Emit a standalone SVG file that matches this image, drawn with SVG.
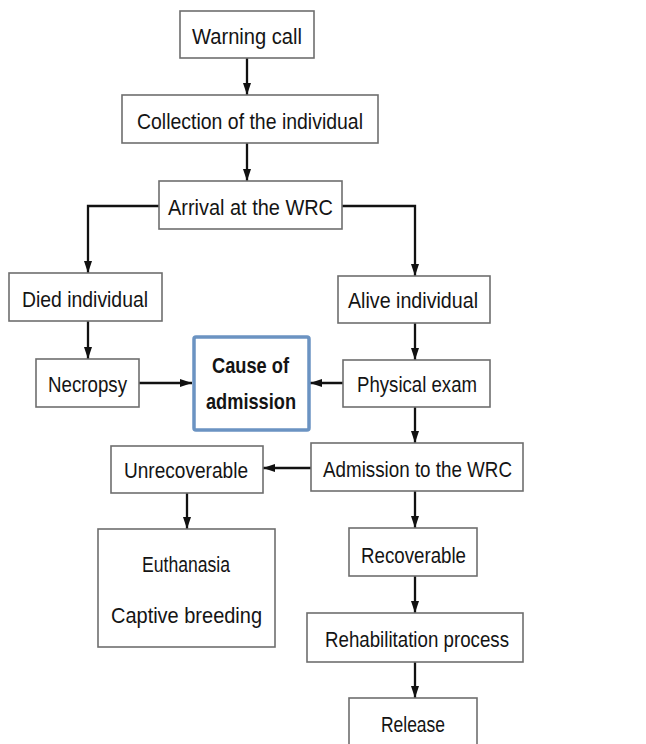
<svg xmlns="http://www.w3.org/2000/svg" width="646" height="744" viewBox="0 0 646 744">
<defs>
<marker id="ah" viewBox="0 0 12 8" refX="12" refY="4" markerWidth="12" markerHeight="8" orient="auto" markerUnits="userSpaceOnUse">
<path d="M0,0 L12,4 L0,8 z" fill="#111"/>
</marker>
<style>
.box{fill:#fff;stroke:#6e6e6e;stroke-width:1.6}
.key{fill:#fff;stroke:#6b93c2;stroke-width:3.5}
.t{font-family:"Liberation Sans",Arial,sans-serif;font-size:22px;fill:#141414;text-anchor:middle}
.b{font-weight:bold}
.c{fill:none;stroke:#111;stroke-width:2.3}
</style>
</defs>
<rect width="646" height="744" fill="#fff"/>
<g id="connectors">
<path class="c" d="M247,58 V95" marker-end="url(#ah)"/>
<path class="c" d="M247,143 V181" marker-end="url(#ah)"/>
<path class="c" d="M159,206 H88 V273" marker-end="url(#ah)"/>
<path class="c" d="M342,206 H415 V276" marker-end="url(#ah)"/>
<path class="c" d="M88,321 V359" marker-end="url(#ah)"/>
<path class="c" d="M139,383 H192" marker-end="url(#ah)"/>
<path class="c" d="M343,383 H310" marker-end="url(#ah)"/>
<path class="c" d="M415,323 V360" marker-end="url(#ah)"/>
<path class="c" d="M415,407 V443" marker-end="url(#ah)"/>
<path class="c" d="M311,468 H263" marker-end="url(#ah)"/>
<path class="c" d="M187,493 V529" marker-end="url(#ah)"/>
<path class="c" d="M415,491 V528" marker-end="url(#ah)"/>
<path class="c" d="M415,576 V613" marker-end="url(#ah)"/>
<path class="c" d="M415,662 V698" marker-end="url(#ah)"/>
</g>
<g id="warning"><rect class="box" x="180" y="11" width="134" height="47"/><text class="t" x="247" y="44" textLength="110" lengthAdjust="spacingAndGlyphs">Warning call</text></g>
<g id="collection"><rect class="box" x="122" y="95" width="256" height="48"/><text class="t" x="250" y="129" textLength="226" lengthAdjust="spacingAndGlyphs">Collection of the individual</text></g>
<g id="arrival"><rect class="box" x="159" y="181" width="183" height="48"/><text class="t" x="250.5" y="215" textLength="165" lengthAdjust="spacingAndGlyphs">Arrival at the WRC</text></g>
<g id="died"><rect class="box" x="9" y="273" width="153" height="48"/><text class="t" x="85" y="307" textLength="126" lengthAdjust="spacingAndGlyphs">Died individual</text></g>
<g id="alive"><rect class="box" x="338" y="276" width="152" height="47"/><text class="t" x="413" y="308" textLength="130" lengthAdjust="spacingAndGlyphs">Alive individual</text></g>
<g id="necropsy"><rect class="box" x="36" y="359" width="103" height="48"/><text class="t" x="87.5" y="392" textLength="79" lengthAdjust="spacingAndGlyphs">Necropsy</text></g>
<g id="cause"><rect class="key" x="194" y="337" width="115" height="93" rx="2"/><text class="t b" x="250.5" y="373" textLength="77" lengthAdjust="spacingAndGlyphs">Cause of</text><text class="t b" x="251" y="409" textLength="90" lengthAdjust="spacingAndGlyphs">admission</text></g>
<g id="physical"><rect class="box" x="343" y="360" width="147" height="47"/><text class="t" x="417" y="392" textLength="120" lengthAdjust="spacingAndGlyphs">Physical exam</text></g>
<g id="admission"><rect class="box" x="311" y="443" width="212" height="48"/><text class="t" x="417.5" y="477" textLength="189" lengthAdjust="spacingAndGlyphs">Admission to the WRC</text></g>
<g id="unrecoverable"><rect class="box" x="111" y="446" width="152" height="47"/><text class="t" x="186" y="478" textLength="124" lengthAdjust="spacingAndGlyphs">Unrecoverable</text></g>
<g id="euthanasia"><rect class="box" x="98" y="529" width="177" height="118"/><text class="t" x="186" y="572" textLength="88" lengthAdjust="spacingAndGlyphs">Euthanasia</text><text class="t" x="186.5" y="623" textLength="151" lengthAdjust="spacingAndGlyphs">Captive breeding</text></g>
<g id="recoverable"><rect class="box" x="349" y="528" width="128" height="48"/><text class="t" x="413.5" y="563" textLength="105" lengthAdjust="spacingAndGlyphs">Recoverable</text></g>
<g id="rehab"><rect class="box" x="307" y="613" width="216" height="49"/><text class="t" x="417" y="647" textLength="184" lengthAdjust="spacingAndGlyphs">Rehabilitation process</text></g>
<g id="release"><rect class="box" x="349" y="698" width="128" height="50"/><text class="t" x="413" y="732" textLength="64" lengthAdjust="spacingAndGlyphs">Release</text></g>
</svg>
